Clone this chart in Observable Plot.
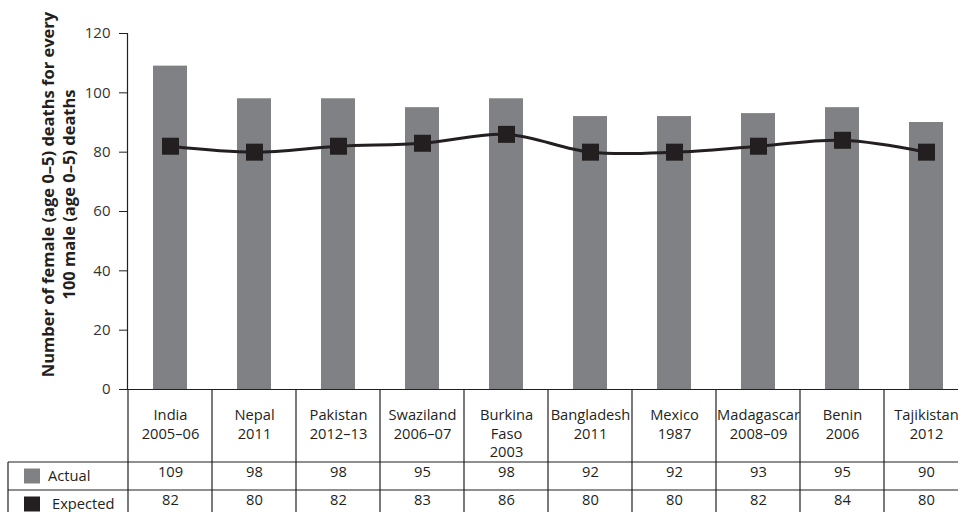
<!DOCTYPE html>
<html><head><meta charset="utf-8">
<script src="https://cdn.jsdelivr.net/npm/d3@7"></script>
<script src="https://cdn.jsdelivr.net/npm/@observablehq/plot@0.6"></script>
<style>body{margin:0;background:#fff;overflow:hidden}</style>
</head><body><div id="chart"></div>
<script>
const countries = ["India","Nepal","Pakistan","Swaziland","Burkina Faso","Bangladesh","Mexico","Madagascar","Benin","Tajikistan"];
const years = ["2005–06","2011","2012–13","2006–07","2003","2011","1987","2008–09","2006","2012"];
const actual = [109,98,98,95,98,92,92,93,95,90];
const expected = [82,80,82,83,86,80,80,82,84,80];
const yTicks = [0,20,40,60,80,100,120];
const seriesNames = ["Actual","Expected"];
const yLabel = ["Number of female (age 0–5) deaths for every","100 male (age 0–5) deaths"];

const ink = "#231f20", barGray = "#808184", font = "Open Sans", fs = 14.7;
const data = countries.map((c,i)=>({key:c+" "+years[i], lines:[...c.split(" "), years[i]], actual:actual[i], expected:expected[i]}));
const keys = data.map(d=>d.key);
const headerLines = data.flatMap(d=>d.lines.map((t,j)=>({key:d.key,t,j})));

const tableGrid = (index, scales, values, dims) => {
  const x = scales.x;
  const bw = typeof x.bandwidth === "function" ? x.bandwidth() : x.bandwidth;
  const top = dims.height - dims.marginBottom;
  const r1 = top + 73, r2 = top + 101;
  const right = x(keys[keys.length-1]) + bw;
  const g = d3.create("svg:g");
  const lines = g.append("g").attr("stroke", ink).attr("stroke-width", 1.2).attr("fill","none");
  [...keys.map(k=>x(k)), right].forEach(xx => lines.append("line").attr("x1",xx).attr("x2",xx).attr("y1",top).attr("y2",dims.height+5));
  lines.append("line").attr("x1",8).attr("x2",8).attr("y1",r1).attr("y2",dims.height+5);
  [r1,r2].forEach(yy => lines.append("line").attr("x1",8).attr("x2",right).attr("y1",yy).attr("y2",yy));
  const fills = [barGray, ink];
  seriesNames.forEach((s,i)=>{
    const cy = i===0 ? (r1+r2)/2 : r2 + 14;
    g.append("rect").attr("x",24).attr("y",cy-7.5).attr("width",16).attr("height",15).attr("fill",fills[i]);
    g.append("text").attr("x", i===0?48:52).attr("y",cy).attr("dy","0.35em").attr("text-anchor","start")
      .attr("font-family",font).attr("font-size",fs).attr("fill",ink).text(s);
  });
  return g.node();
};

const headerMarks = [0,1,2].map(j => Plot.text(headerLines.filter(d=>d.j===j), {
  x:"key", text:"t", frameAnchor:"bottom", dy: 26 + j*18.5, fontSize:fs, fill:ink, lineAnchor:"middle"
}));

const chart = Plot.plot({
  width: 958, height: 512,
  marginLeft: 127, marginRight: -10, marginTop: 33, marginBottom: 123,
  style: {fontFamily: font, fontSize: fs + "px", color: ink, background: "#fff"},
  x: {domain: keys, padding: 0, axis: null},
  y: {domain: [0,120], axis: null},
  marks: [
    Plot.barY(data, {x:"key", y:"actual", fill:barGray, insetLeft:25, insetRight:25}),
    Plot.line(data, {x:"key", y:"expected", curve:"catmull-rom", stroke:ink, strokeWidth:3}),
    Plot.dot(data, {x:"key", y:"expected", symbol:"square", r:9.6, fill:ink, stroke:"none"}),
    Plot.ruleY([0], {stroke:ink, strokeWidth:1.2}),
    Plot.frame({anchor:"left", stroke:ink, strokeWidth:1.2}),
    Plot.axisY({ticks: yTicks, tickSize: 8, tickPadding: 9, label: null, fontSize: 15, stroke: ink, color: "#333"}),
    ...headerMarks,
    Plot.text(data, {x:"key", text:d=>String(d.actual), frameAnchor:"bottom", dy:87, fontSize:fs, fill:ink}),
    Plot.text(data, {x:"key", text:d=>String(d.expected), frameAnchor:"bottom", dy:115, fontSize:fs, fill:ink}),
    tableGrid,
    Plot.text([yLabel.join("\n")], {frameAnchor:"left", textAnchor:"middle", lineAnchor:"middle", rotate:-90, dx:-70, dy:-17, fontWeight:"bold", fontSize:16.5, lineHeight:1.3, fill:ink})
  ]
});
document.getElementById("chart").appendChild(chart);
</script>
</body></html>
